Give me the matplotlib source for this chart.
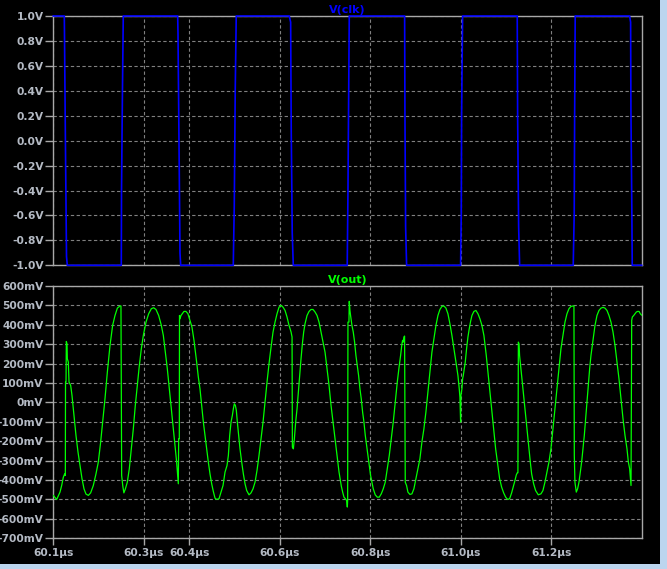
import numpy as np
import matplotlib
matplotlib.use("Agg")
import matplotlib.pyplot as plt
from matplotlib.patches import Rectangle

# time axis: ns after 60.1 us
T0_US = 60.1

# V(clk) points (ns after 60.1us, volts)
clk_t_ns = [0.0, 24.3, 24.7, 26.9, 29.2, 30.9,
            150.2, 150.7, 152.9, 154.6,
            274.8, 275.5, 277.7, 279.9, 281.4,
            397.6, 399.8, 402.0, 404.2,
            521.3, 524.4, 525.7, 527.9, 530.2,
            649.4, 651.0, 652.5, 653.9,
            776.2, 776.9, 778.4, 780.6,
            899.9, 901.3, 902.1, 904.3,
            1025.0, 1025.9, 1028.1, 1030.3,
            1148.7, 1150.9, 1151.8, 1153.1,
            1273.3, 1275.5, 1276.2, 1278.4, 1279.1, 1300.0]
clk_v = [1.0, 1.0, 0.86, -0.06, -0.93, -1.0,
         -1.0, -0.40, 0.44, 1.0,
         1.0, 0.86, 0.0, -0.90, -1.0,
         -1.0, -0.53, 0.42, 1.0,
         1.0, 0.95, 0.07, -0.74, -1.0,
         -1.0, -0.42, 0.33, 1.0,
         1.0, 0.23, -0.69, -1.0,
         -1.0, -0.59, 0.22, 1.0,
         1.0, 0.18, -0.69, -1.0,
         -1.0, -0.59, 0.19, 1.0,
         1.0, 0.95, 0.25, -0.65, -1.0, -1.0]

# V(out) points (ns after 60.1us, mV)
out_t_ns = [0.0, 7.4, 14.8, 18.5, 22.2, 25.1, 26.6, 27.0, 28.1, 28.8, 30.3, 31.0, 33.2, 34.7,
            38.4, 41.3, 44.3, 47.2, 50.1, 54.6, 59.0, 63.4, 67.8, 72.2, 77.4, 82.5, 88.4,
            94.3, 99.5, 104.6, 109.1, 114.2, 119.4, 125.3, 131.1, 136.3, 141.5, 147.3, 149.5,
            151.0, 153.4, 155.9, 158.9, 163.5, 167.9, 172.4, 176.8, 181.2, 185.6, 190.1,
            194.5, 198.9, 204.8, 210.7, 216.6, 221.7, 226.9, 232.8, 238.7, 243.1, 247.5,
            251.9, 256.3, 260.7, 265.2, 269.6, 272.5, 274.7, 276.2, 277.0, 278.4, 278.8,
            279.9, 282.1, 285.0, 288.7, 293.1, 297.5, 301.9, 306.4, 310.8,
            316.7, 320.4, 324.1, 327.8, 331.5, 335.2, 338.8, 342.5, 346.2, 349.9, 353.6,
            357.3, 361.0, 366.1, 370.5, 375.0, 379.4, 383.8, 386.8, 389.7, 392.7, 395.6,
            397.8, 400.0, 402.2, 404.4, 406.6, 409.6, 412.5, 416.2, 419.9, 423.6, 427.3,
            432.4, 436.8, 441.3, 445.7, 450.1, 454.5, 459.0, 463.4, 467.8, 472.2, 476.6,
            481.1, 485.5, 489.9, 494.3, 498.7, 503.2, 507.6, 512.0, 516.4, 520.8, 525.3,
            527.5, 528.2, 530.4, 532.6, 535.5, 538.5, 541.4, 544.4, 547.3, 550.3, 553.2,
            556.1, 560.6, 565.0, 569.4, 573.8, 578.3, 582.7, 587.1, 591.5, 595.9, 600.4,
            604.8, 609.2, 613.6, 618.0, 622.5, 626.9, 631.3,
            636.3, 639.3, 642.2, 645.2, 648.1, 649.6, 650.3, 651.0, 653.2, 653.9, 655.4,
            656.8, 659.8, 662.7, 665.7, 668.6, 671.6, 674.5, 677.5, 680.4, 683.4, 686.3,
            689.3, 692.2, 695.1, 698.1, 701.0, 704.0, 706.9, 711.3, 715.8, 720.2, 724.6,
            729.0, 733.4, 737.9, 742.3, 746.7, 751.1, 755.5, 760.0, 764.4, 767.3, 770.3,
            771.7, 773.2, 774.7, 776.1, 777.6, 780.5, 783.5, 787.9, 792.3, 796.7, 801.1,
            805.6, 810.0, 814.4, 818.8, 823.2, 827.7, 832.1, 836.5, 840.9, 845.4, 849.8,
            854.2, 858.6, 863.0, 867.5, 871.9, 876.3, 880.7, 885.2, 889.6, 894.0, 896.9,
            898.4, 899.9, 900.6, 902.8, 904.3, 905.8, 908.0, 910.2, 913.1, 916.1, 919.0,
            922.0, 924.9, 929.3, 933.7, 938.2, 942.6, 947.0, 951.4,
            956.6, 959.6, 962.5, 965.5, 968.4, 971.4, 974.3, 977.3, 980.2, 983.2, 986.1,
            990.5, 995.0, 999.4, 1003.8, 1008.2, 1012.6, 1017.0, 1020.0, 1023.0, 1025.2,
            1026.5, 1027.5, 1029.0, 1030.2, 1033.2, 1036.2, 1039.1, 1042.1, 1045.0, 1048.0,
            1050.9, 1053.9, 1056.8, 1061.2, 1065.6, 1071.5, 1077.4, 1081.8, 1086.2, 1090.7,
            1095.1, 1099.5, 1103.9, 1108.3, 1112.8, 1117.2, 1121.6, 1126.0, 1130.5, 1134.9,
            1139.3, 1143.7, 1148.1, 1150.3, 1151.1, 1152.5, 1155.5, 1158.4, 1161.4, 1164.3,
            1167.3, 1170.2, 1173.2, 1176.1, 1179.1, 1182.0, 1185.0, 1187.9, 1190.9, 1193.8,
            1196.8, 1201.2, 1205.6, 1210.0, 1214.5, 1218.9, 1223.3, 1227.7, 1232.1, 1236.6,
            1241.0, 1245.4, 1249.8, 1254.3, 1258.7, 1263.1, 1267.5, 1270.5, 1273.4, 1274.9,
            1276.4, 1277.9, 1279.3, 1282.3, 1285.2, 1288.2, 1291.1, 1294.1, 1297.0, 1299.8]
out_mv = [-479, -500, -462, -428, -385, -368, -376, 105, 105, 314, 302, 225, 208, 105,
          88, 36, -33, -101, -170, -256, -325, -393, -445, -472, -479, -466, -428,
          -368, -307, -204, -101, 19, 156, 294, 397, 448, 486, 497, 497,
          -376, -428, -466, -448, -411, -342, -239, -136, -15, 88, 191,
          277, 345, 414, 457, 483, 488, 479, 448, 397, 345, 259,
          174, 70, -33, -136, -239, -307, -376, -419, -187, -187, 448,
          431, 448, 457, 469, 469, 457, 423, 388, 320,
          208, 131, 70, -15, -101, -170, -239, -307, -368, -419, -459,
          -493, -500, -496, -462, -428, -359, -325, -273, -170, -101, -67,
          -33, -7, -15, -41, -101, -170, -239, -307, -368, -419, -454,
          -476, -466, -445, -411, -350, -273, -187, -101, 3, 105, 199,
          285, 363, 414, 457, 491, 500, 491, 474, 440, 397, 363,
          337, -230, -239, -187, -101, -33, 53, 139, 225, 302, 363,
          405, 448, 469, 479, 479, 466, 448, 414, 363, 311, 259,
          174, 88, -15, -101, -187, -273, -359,
          -431, -462, -488, -496, -505, -539, -505, 414, 414, 521, 474,
          448, 397, 363, 311, 242, 191, 139, 70, 19, -50, -101,
          -170, -222, -273, -325, -376, -411, -445, -476, -488, -488, -471,
          -445, -411, -342, -273, -187, -101, 3, 105, 191, 242, 302,
          320, 311, 337, 342, -411, -428, -462, -474, -471, -445, -393,
          -342, -290, -204, -136, -50, 53, 156, 259, 328, 397, 448,
          479, 495, 497, 486, 457, 405, 345, 277, 208, 139, 70,
          27, -101, 36, 70, 122, 139, 174, 208, 277, 337, 380,
          418, 448, 469, 474, 457, 431, 397, 345,
          242, 174, 105, 36, -33, -101, -170, -239, -290, -342, -393,
          -436, -466, -488, -500, -496, -466, -428, -402, -373, -362,
          -362, 311, 302, 242, 174, 105, 36, -33, -101, -170,
          -239, -307, -368, -419, -454, -476, -471, -454, -411, -359,
          -307, -239, -136, -33, 70, 174, 277, 345, 414, 457,
          483, 495, 497, 497, -273, -411, -462, -445, -411, -359,
          -307, -239, -170, -84, 3, 88, 174, 242, 294, 345,
          397, 448, 474, 486, 490, 486, 474, 448, 414, 363,
          294, 208, 122, 19, -84, -170, -239, -307, -342, -385,
          -428, 423, 440, 448, 457, 466, 469, 469, 457, 450]

x_ticks = [60.1, 60.3, 60.4, 60.6, 60.8, 61.0, 61.2]
x_labels = ["60.1µs", "60.3µs", "60.4µs", "60.6µs", "60.8µs", "61.0µs", "61.2µs"]
clk_ticks = [1.0, 0.8, 0.6, 0.4, 0.2, 0.0, -0.2, -0.4, -0.6, -0.8, -1.0]
clk_labels = ["1.0V", "0.8V", "0.6V", "0.4V", "0.2V", "0.0V", "-0.2V", "-0.4V", "-0.6V", "-0.8V", "-1.0V"]
out_ticks = [600, 500, 400, 300, 200, 100, 0, -100, -200, -300, -400, -500, -600, -700]
out_labels = ["600mV", "500mV", "400mV", "300mV", "200mV", "100mV", "0mV", "-100mV",
              "-200mV", "-300mV", "-400mV", "-500mV", "-600mV", "-700mV"]

W, H = 667, 569
BG = "black"
FRAME = "#a8a8a8"
GRID = "#808080"
LABEL = "#b4bac4"

fig = plt.figure(figsize=(W / 100, H / 100), dpi=100, facecolor=BG)

def px_rect(left, top, right, bottom):
    return [left / W, 1 - bottom / H, (right - left) / W, (bottom - top) / H]

ax1 = fig.add_axes(px_rect(53.3, 16, 641.7, 265.3), facecolor=BG)
ax2 = fig.add_axes(px_rect(53.3, 286, 641.7, 538.3), facecolor=BG)

t_clk = T0_US + np.array(clk_t_ns) / 1000.0
t_out = T0_US + np.array(out_t_ns) / 1000.0

ax1.plot(t_clk, clk_v, color="#0000ff", linewidth=1.2, clip_on=False, zorder=5)
ax2.plot(t_out, out_mv, color="#00ff00", linewidth=0.9, zorder=5)

for ax, ticks, labels, lims, title, tcol in [
        (ax1, clk_ticks, clk_labels, (-1.0, 1.0), "V(clk)", "#0000ff"),
        (ax2, out_ticks, out_labels, (-700, 600), "V(out)", "#00ff00")]:
    ax.set_xlim(60.1, 61.4)
    ax.set_ylim(*lims)
    ax.set_yticks(ticks)
    ax.set_yticklabels(labels)
    ax.set_xticks(x_ticks)
    for s in ax.spines.values():
        s.set_color(FRAME)
        s.set_linewidth(1.0)
    ax.grid(True, color=GRID, linestyle=(0, (3.0, 2.2)), linewidth=0.8)
    ax.tick_params(axis="y", colors=FRAME, length=6, width=1.0, pad=1,
                   labelcolor=LABEL, labelsize=7.7)
    for lab in ax.get_yticklabels():
        lab.set_fontweight("bold")
    ax.set_title(title, color=tcol, fontsize=8, fontweight="bold", pad=2)

ax1.tick_params(axis="x", length=0, labelbottom=False)
ax2.set_xticklabels(x_labels)
ax2.tick_params(axis="x", colors=FRAME, length=5, width=1.0, pad=2,
                labelcolor=LABEL, labelsize=7.7)
for lab in ax2.get_xticklabels():
    lab.set_fontweight("bold")

# window border on the right and bottom
fig.patches.append(Rectangle((660 / W, 0), 1 - 660 / W, 1, transform=fig.transFigure,
                             facecolor="#bcd5ee", edgecolor="none", zorder=0))
fig.patches.append(Rectangle((0, 0), 1, 5 / H, transform=fig.transFigure,
                             facecolor="#bcd5ee", edgecolor="none", zorder=0))

fig.savefig("out.png", dpi=100, facecolor=BG)
